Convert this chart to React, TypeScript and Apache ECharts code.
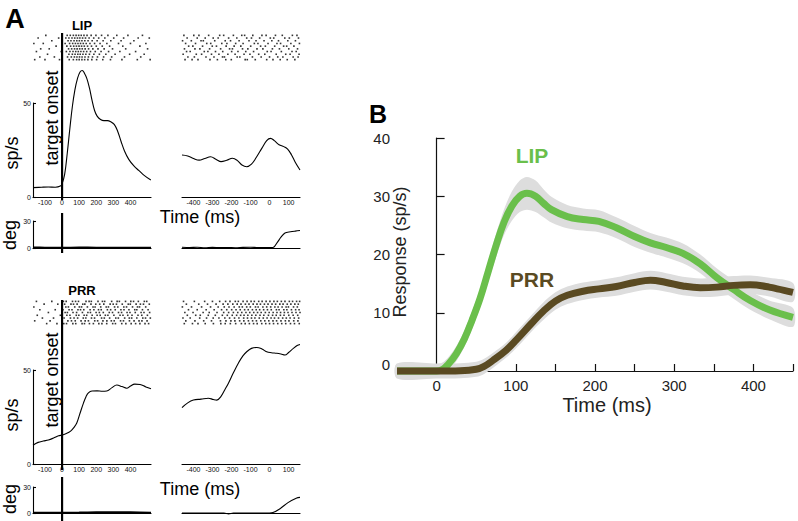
import React, { useEffect, useRef } from "react";
import * as echarts from "echarts";

// ---------------- Panel A data ----------------
const ONSET_MS = 0;

// LIP – PSTH aligned on target onset (ms, sp/s)
const lipPsthLeftT = [-170, -120, -80, -40, -10, 0, 15, 30, 45, 60, 75, 90, 105, 118, 130, 145, 160, 175, 190, 205, 225, 245, 265, 285, 305, 325, 345, 365, 390, 420, 450, 480, 519];
const lipPsthLeftRate = [5, 5.2, 5.3, 5.2, 5.8, 7, 12, 23, 36, 48, 57, 63, 66.5, 67.3, 66, 63, 58, 51.5, 46, 43, 41.2, 40.6, 40.6, 40, 38.6, 35, 29.5, 24.5, 20, 16.5, 14, 11.5, 9];
// LIP – PSTH aligned on saccade
const lipPsthRightT = [-460, -430, -400, -370, -340, -310, -280, -255, -225, -195, -170, -145, -120, -95, -70, -40, -15, 5, 25, 50, 75, 95, 115, 135, 160];
const lipPsthRightRate = [22.3, 21.8, 20.5, 19.6, 20.5, 21.4, 20, 18.8, 19.5, 20.6, 19.5, 17, 16.1, 17.5, 21, 26, 30, 31.2, 30, 27.8, 26.8, 25.5, 22.5, 18.5, 14.4];
// LIP – eye position (deg)
const lipEyeLeftT = [-170, -100, 0, 100, 200, 300, 400, 520];
const lipEyeLeftDeg = [0.6, 0.5, 0.4, 0.6, 0.5, 0.4, 0.5, 0.4];
const lipEyeRightT = [-460, -420, -380, -340, -300, -260, -220, -180, -140, -100, -60, -20, 18, 40, 60, 81, 110, 135, 160];
const lipEyeRightDeg = [0.9, 0.5, 0.8, 0.3, 0.7, 0.4, 0.6, 0.3, 0.7, 0.9, 0.4, 0.6, 0.5, 6, 12, 16.7, 18, 18.8, 19.5];
// LIP – rasters (spike times per trial, ms)
const lipRasterLeft = [
  [-95, 30, 48, 66, 82, 97, 112, 128, 146, 170, 198, 231, 268, 320, 385, 470],
  [-140, -20, 22, 40, 58, 74, 90, 104, 120, 137, 158, 185, 214, 250, 302, 360, 445, 510],
  [-60, 35, 52, 70, 86, 101, 116, 133, 152, 176, 205, 240, 285, 345, 420],
  [-165, -110, 18, 44, 62, 78, 93, 108, 124, 141, 163, 190, 222, 262, 330, 400, 490],
  [-35, 28, 50, 68, 84, 99, 114, 130, 149, 172, 200, 235, 278, 355, 455],
  [-125, -75, 38, 56, 73, 88, 103, 118, 135, 155, 180, 210, 246, 295, 372, 500],
  [-150, -5, 25, 46, 64, 80, 95, 110, 126, 144, 166, 194, 228, 272, 338, 430],
  [-85, 40, 60, 76, 92, 106, 122, 139, 160, 186, 218, 256, 310, 395, 480],
  [-130, -45, 32, 54, 72, 87, 102, 117, 134, 154, 178, 207, 243, 290, 365, 460],
  [-160, -100, -15, 42, 66, 85, 100, 116, 132, 151, 174, 202, 238, 283, 350, 440, 515],
];
const lipRasterRight = [
  [-450, -398, -371, -320, -262, -241, -190, -146, -131, -88, -40, -18, 31, 67, 120, 144],
  [-433, -380, -338, -296, -270, -215, -172, -120, -95, -52, 4, 22, 80, 104, 152],
  [-457, -411, -360, -348, -288, -233, -205, -160, -108, -71, -29, 12, 47, 96, 136],
  [-441, -389, -330, -309, -251, -224, -178, -139, -80, -61, -8, 39, 58, 112, 157],
  [-425, -403, -352, -301, -279, -228, -186, -151, -99, -47, -22, 27, 74, 90, 128],
  [-447, -392, -366, -315, -257, -210, -195, -142, -114, -66, -35, 15, 52, 101, 147],
  [-436, -417, -343, -324, -284, -246, -199, -166, -125, -84, -12, 8, 62, 118, 140],
  [-454, -385, -357, -305, -266, -219, -181, -134, -103, -57, -25, 35, 85, 108, 155],
  [-429, -395, -334, -292, -247, -237, -170, -156, -90, -44, 0, 43, 70, 124, 150],
  [-444, -407, -376, -313, -274, -230, -201, -128, -117, -75, -15, 18, 56, 93, 133],
];

// PRR
const prrPsthLeftT = [-170, -140, -110, -80, -50, -20, 0, 25, 50, 70, 86, 105, 125, 140, 154, 175, 205, 235, 261, 290, 320, 350, 378, 400, 425, 456, 490, 520];
const prrPsthLeftRate = [10, 11.5, 12.2, 12.8, 13.8, 15, 15.4, 16.2, 17.5, 19.5, 21.8, 27, 32.4, 35.8, 37.8, 38.8, 38.9, 38.7, 38.8, 40.5, 42, 41.2, 40.3, 41.5, 42.5, 42.3, 41, 40];
const prrPsthRightT = [-460, -430, -400, -360, -322, -295, -277, -255, -235, -216, -190, -164, -140, -120, -95, -67, -40, -15, 10, 38, 60, 81, 100, 125, 145, 160];
const prrPsthRightRate = [30, 32.5, 34, 34.5, 35, 34.3, 34, 36, 39.5, 43, 48.5, 53.6, 57.5, 59.7, 61.5, 62, 61.2, 59.7, 59.2, 58.9, 58.5, 58, 59.3, 61.5, 63, 63.6];
const prrEyeLeftT = [-170, -50, 0, 100, 200, 300, 400, 520];
const prrEyeLeftDeg = [0.4, 0.5, 0.4, 0.6, 1.0, 1.1, 0.9, 0.5];
const prrEyeRightT = [-460, -300, -240, -215, -190, 0, 18, 55, 97, 143, 160];
const prrEyeRightDeg = [0, 0, 0, -1, 0, 0, 0.5, 5, 12, 17.3, 18];
const prrRasterLeft = [
  [-150, -60, 8, 24, 61, 79, 96, 140, 158, 171, 210, 236, 249, 290, 322, 335, 371, 402, 418, 446, 481, 495],
  [-105, -25, 15, 52, 67, 88, 121, 133, 169, 197, 220, 244, 281, 299, 318, 352, 387, 399, 433, 458, 476, 510],
  [-165, 22, 37, 74, 101, 114, 148, 181, 193, 226, 258, 271, 307, 326, 361, 377, 412, 441, 453, 489],
  [-130, -40, 5, 41, 58, 93, 108, 127, 164, 186, 213, 229, 265, 284, 311, 344, 362, 391, 425, 437, 470, 503],
  [-80, 18, 31, 64, 85, 119, 151, 166, 199, 218, 241, 276, 295, 330, 348, 380, 397, 428, 462, 479, 512],
  [-145, -10, 28, 46, 83, 98, 129, 144, 176, 205, 223, 253, 268, 303, 339, 356, 384, 409, 444, 466, 499],
  [-115, -50, 12, 49, 70, 91, 124, 139, 172, 190, 231, 247, 278, 314, 329, 366, 393, 407, 437, 472, 488, 516],
  [-160, -70, 34, 55, 77, 111, 135, 154, 191, 208, 239, 262, 288, 305, 342, 359, 394, 421, 450, 467, 497],
  [-90, -30, 10, 26, 63, 80, 117, 131, 160, 183, 215, 233, 261, 296, 312, 349, 373, 404, 430, 455, 485, 506],
];
const prrRasterRight = [
  [-452, -395, -341, -300, -262, -231, -208, -180, -164, -139, -118, -97, -80, -57, -39, -18, 2, 23, 41, 62, 81, 104, 121, 142, 158],
  [-437, -372, -326, -281, -244, -219, -193, -170, -150, -127, -108, -86, -66, -48, -27, -8, 13, 32, 54, 71, 93, 112, 133, 151],
  [-458, -410, -357, -310, -270, -238, -213, -186, -159, -143, -120, -101, -74, -60, -35, -15, 6, 28, 45, 66, 87, 99, 126, 146],
  [-426, -380, -333, -291, -252, -225, -199, -176, -154, -131, -112, -90, -70, -52, -31, -11, 9, 36, 50, 75, 91, 115, 137, 155],
  [-445, -402, -349, -317, -276, -241, -215, -190, -167, -146, -124, -104, -83, -63, -44, -22, -2, 19, 39, 58, 78, 97, 118, 139, 160],
  [-432, -388, -364, -322, -285, -248, -222, -196, -173, -152, -134, -114, -93, -72, -50, -30, -6, 16, 35, 57, 76, 101, 124, 148],
  [-455, -417, -367, -331, -296, -266, -235, -210, -184, -161, -136, -116, -95, -77, -54, -33, -13, 8, 26, 47, 69, 88, 108, 130, 153],
  [-440, -392, -346, -305, -258, -229, -203, -182, -157, -135, -111, -89, -69, -46, -25, -4, 18, 37, 60, 83, 102, 127, 149],
  [-448, -405, -376, -338, -295, -256, -233, -206, -178, -148, -128, -106, -84, -65, -41, -20, 0, 21, 43, 64, 85, 110, 131, 156],
];

const leftTicks = [-100, 0, 100, 200, 300, 400];
const rightTicks = [-400, -300, -200, -100, 0, 100];

// ---------------- Panel B data ----------------
const bTimeLip = [-50, 0, 8, 15, 25, 35, 45, 55, 65, 75, 85, 95, 105, 114, 125, 135, 145, 165, 185, 205, 227, 250, 270, 290, 311, 333, 354, 375, 396, 420, 450];
const bLip = [0, 0, 0.3, 1.2, 3, 5.5, 8.8, 12.5, 17, 21.5, 25.5, 28.3, 30, 30.5, 30, 28.8, 27.7, 26.5, 26, 25.7, 24.6, 23.1, 22, 21.2, 20.2, 18.4, 16, 14, 12.1, 10.5, 9.2];
const bLipSem = [1.2, 1.2, 1.2, 1.2, 1.3, 1.4, 1.5, 1.6, 1.8, 2, 2.2, 2.5, 2.7, 2.8, 2.7, 2.4, 2.2, 2.0, 1.9, 1.9, 1.8, 1.8, 1.7, 1.7, 1.7, 1.6, 1.6, 1.6, 1.6, 1.6, 1.6];
const bTimePrr = [-50, 0, 30, 50, 60, 71, 88, 101, 120, 135, 150, 165, 185, 205, 227, 250, 270, 290, 311, 333, 354, 375, 396, 420, 450];
const bPrr = [0, 0, 0.05, 0.3, 0.8, 1.8, 3.6, 5.4, 8.2, 10.3, 12, 13, 13.7, 14.1, 14.5, 15.2, 15.6, 15.2, 14.6, 14.3, 14.4, 14.7, 14.8, 14.4, 13.5];
const bPrrSem = [1.3, 1.3, 1.3, 1.3, 1.3, 1.3, 1.3, 1.4, 1.4, 1.5, 1.5, 1.5, 1.5, 1.5, 1.6, 1.6, 1.6, 1.6, 1.6, 1.6, 1.6, 1.6, 1.6, 1.6, 1.6];
const bXLabels = [0, 100, 200, 300, 400];

const GREEN = "#6abf4b";
const BROWN = "#5a4a22";
const BAND = "#dddddd";
const FONT = "Liberation Sans";

const pair = (t: number[], v: number[]) => t.map((x, i) => [x, v[i]]);
const rasterPts = (rows: number[][]) => rows.flatMap((r, i) => r.map((t) => [t, i]));

function buildOption() {
  const grid: any[] = [];
  const xAxis: any[] = [];
  const yAxis: any[] = [];
  const series: any[] = [];
  const addGrid = (rect: any, x: any, y: any) => {
    grid.push({ ...rect, containLabel: false });
    const i = grid.length - 1;
    xAxis.push({ gridIndex: i, ...x });
    yAxis.push({ gridIndex: i, ...y });
    return i;
  };
  const blk = { color: "#000", width: 1.1 };
  const smallLabel = { fontSize: 7, color: "#111", fontFamily: FONT };
  const LR = { min: -170, max: 520 };
  const RR = { min: -460, max: 160 };
  const hidden = (r: any) => ({ type: "value", show: false, ...r });
  const psthX = (r: any, ticks: number[]) => ({
    type: "value", ...r,
    axisLine: { show: true, onZero: false, lineStyle: blk },
    axisTick: { show: false },
    splitLine: { show: false },
    axisLabel: { ...smallLabel, margin: 2, customValues: ticks, hideOverlap: false },
  });
  const lineX = (r: any) => ({
    type: "value", ...r,
    axisLine: { show: true, onZero: false, lineStyle: blk },
    axisTick: { show: false }, axisLabel: { show: false }, splitLine: { show: false },
  });
  const yLeft = (max: number) => ({
    type: "value", min: 0, max, interval: max,
    axisLine: { show: true, onZero: false, lineStyle: blk },
    axisTick: { show: true, inside: true, length: 3, lineStyle: blk },
    axisLabel: { ...smallLabel, margin: 2 },
    splitLine: { show: false },
  });
  const rasterY = (n: number) => ({ type: "value", show: false, min: -0.5, max: n - 0.5, inverse: true });

  const block = (
    top: { raster: number; rasterH: number; psth: number; eye: number; eyeH: number; onset: [number, number]; eyeOnset: [number, number] },
    d: any
  ) => {
    const rl = addGrid({ left: 33, width: 118, top: top.raster, height: top.rasterH }, hidden(LR), rasterY(d.rasterLeft.length));
    const rr = addGrid({ left: 182, width: 118, top: top.raster, height: top.rasterH }, hidden(RR), rasterY(d.rasterRight.length));
    const pl = addGrid({ left: 33, width: 118, top: top.psth, height: 94 }, psthX(LR, leftTicks), yLeft(50));
    const pr = addGrid({ left: 182, width: 118, top: top.psth, height: 94 }, psthX(RR, rightTicks), hidden({ min: 0, max: 50 }));
    const el = addGrid({ left: 33, width: 118, top: top.eye, height: top.eyeH }, lineX(LR), yLeft(30));
    const er = addGrid({ left: 182, width: 118, top: top.eye, height: top.eyeH }, lineX(RR), hidden({ min: 0, max: 30 }));
    const on = addGrid({ left: 33, width: 118, top: top.onset[0], height: top.onset[1] - top.onset[0] }, hidden(LR), hidden({ min: 0, max: 1 }));
    const eo = addGrid({ left: 33, width: 118, top: top.eyeOnset[0], height: top.eyeOnset[1] - top.eyeOnset[0] }, hidden(LR), hidden({ min: 0, max: 1 }));
    const scat = (i: number, rows: number[][]) => ({
      type: "scatter", xAxisIndex: i, yAxisIndex: i, data: rasterPts(rows), symbol: "rect", symbolSize: 1.6,
      itemStyle: { color: "#000" }, silent: true,
    });
    const ln = (i: number, data: number[][], w = 1.1, smooth: any = 0.4) => ({
      type: "line", xAxisIndex: i, yAxisIndex: i, data, smooth, showSymbol: false, clip: false, silent: true,
      lineStyle: { color: "#000", width: w },
    });
    series.push(scat(rl, d.rasterLeft), scat(rr, d.rasterRight));
    series.push(ln(pl, d.psthLeft), ln(pr, d.psthRight));
    series.push(ln(el, d.eyeLeft, 1.8, 0.3), ln(er, d.eyeRight, 1.1, 0.3));
    const onsetLine = [[ONSET_MS, 0], [ONSET_MS, 1]];
    series.push(ln(on, onsetLine, 2.2, false), ln(eo, onsetLine, 2.2, false));
  };

  block(
    { raster: 34, rasterH: 27, psth: 103, eye: 221, eyeH: 27, onset: [33, 200], eyeOnset: [213, 253] },
    {
      rasterLeft: lipRasterLeft, rasterRight: lipRasterRight,
      psthLeft: pair(lipPsthLeftT, lipPsthLeftRate), psthRight: pair(lipPsthRightT, lipPsthRightRate),
      eyeLeft: pair(lipEyeLeftT, lipEyeLeftDeg), eyeRight: pair(lipEyeRightT, lipEyeRightDeg),
    }
  );
  block(
    { raster: 300, rasterH: 25, psth: 370, eye: 487, eyeH: 26, onset: [300, 470], eyeOnset: [477, 521] },
    {
      rasterLeft: prrRasterLeft, rasterRight: prrRasterRight,
      psthLeft: pair(prrPsthLeftT, prrPsthLeftRate), psthRight: pair(prrPsthRightT, prrPsthRightRate),
      eyeLeft: pair(prrEyeLeftT, prrEyeLeftDeg), eyeRight: pair(prrEyeRightT, prrEyeRightDeg),
    }
  );

  // Panel B
  const bAx = { color: "#111", width: 1.2 };
  const bLabel = { fontSize: 15, color: "#222", fontFamily: FONT };
  const b = addGrid(
    { left: 397, width: 396, top: 138, height: 233 },
    {
      type: "value", min: -50, max: 450, interval: 50,
      axisLine: { show: true, onZero: true, lineStyle: bAx },
      axisTick: { show: true, inside: true, length: 7, lineStyle: bAx },
      axisLabel: { ...bLabel, margin: 7, customValues: bXLabels },
      splitLine: { show: false },
    },
    {
      type: "value", min: 0, max: 40, interval: 10,
      axisLine: { show: true, onZero: true, lineStyle: bAx },
      axisTick: { show: true, inside: true, length: 8, lineStyle: bAx },
      axisLabel: {
        ...bLabel, margin: 7,
        formatter: (v: number) => (v === 0 ? "{z|0}" : String(v)),
        rich: { z: { fontSize: 15, color: "#222", fontFamily: FONT, padding: [0, 0, 14, 0] } },
      },
      splitLine: { show: false },
    }
  );
  const bandSeries = (t: number[], v: number[], s: number[]) => ({
    type: "custom", xAxisIndex: b, yAxisIndex: b, data: [0], silent: true,
    renderItem: (_p: any, api: any) => {
      const upper = t.map((x, i) => api.coord([x, v[i] + s[i]]));
      const lower = t.map((x, i) => api.coord([x, v[i] - s[i]])).reverse();
      return {
        type: "polygon",
        shape: { points: upper.concat(lower), smooth: 0.3 },
        style: { fill: BAND, stroke: "none" },
      };
    },
  });
  const mainLine = (t: number[], v: number[], color: string) => ({
    type: "line", xAxisIndex: b, yAxisIndex: b, data: pair(t, v), smooth: 0.4, showSymbol: false, clip: false, silent: true,
    lineStyle: { color, width: 7, cap: "butt" },
  });
  series.push(bandSeries(bTimeLip, bLip, bLipSem));
  series.push(mainLine(bTimeLip, bLip, GREEN));
  series.push(bandSeries(bTimePrr, bPrr, bPrrSem));
  series.push(mainLine(bTimePrr, bPrr, BROWN));

  const txt = (text: string, x: number, y: number, fontSize: number, opts: any = {}) => ({
    type: "text", x, y, rotation: opts.rot ? Math.PI / 2 : 0, silent: true,
    style: { text, fontSize, fontFamily: FONT, fontWeight: opts.bold ? "bold" : "normal", fill: opts.color || "#000", align: "center", verticalAlign: "middle" },
  });

  const graphic = [
    txt("A", 15, 19, 27, { bold: true }),
    txt("B", 378, 114, 25, { bold: true }),
    txt("LIP", 82, 25, 13, { bold: true }),
    txt("PRR", 82, 290, 13, { bold: true }),
    txt("target onset", 52, 118, 18, { rot: true }),
    txt("target onset", 52, 380, 18, { rot: true }),
    txt("sp/s", 12, 153, 18, { rot: true }),
    txt("sp/s", 12, 415, 18, { rot: true }),
    txt("deg", 10, 235, 18, { rot: true }),
    txt("deg", 10, 499, 18, { rot: true }),
    txt("Time (ms)", 200, 217, 18),
    txt("Time (ms)", 200, 489, 18),
    txt("Response (sp/s)", 400, 252, 18, { rot: true, color: "#222" }),
    txt("Time (ms)", 607, 405, 20, { color: "#222" }),
    txt("LIP", 532, 155, 21, { bold: true, color: GREEN }),
    txt("PRR", 532, 279, 21, { bold: true, color: BROWN }),
  ];

  return { animation: false, backgroundColor: "#fff", grid, xAxis, yAxis, series, graphic };
}

export default function App() {
  const ref = useRef<HTMLDivElement>(null);
  useEffect(() => {
    document.body.style.margin = "0";
    if (!ref.current) return;
    const chart = echarts.init(ref.current, undefined, { renderer: "svg" });
    chart.setOption(buildOption() as any);
    return () => chart.dispose();
  }, []);
  return <div ref={ref} style={{ width: 798, height: 521 }} />;
}
